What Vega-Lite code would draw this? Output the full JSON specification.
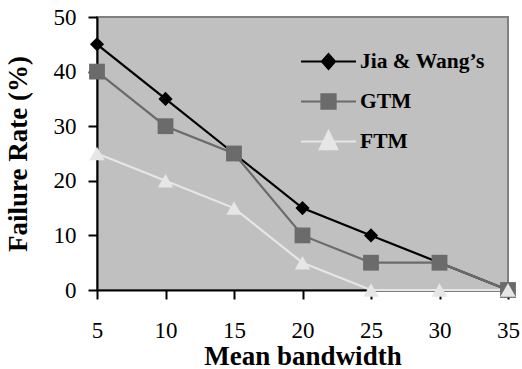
{
  "$schema": "https://vega.github.io/schema/vega-lite/v6.json",
  "width": 411,
  "height": 273,
  "autosize": "none",
  "padding": {"left": 97, "top": 17, "right": 14, "bottom": 79},
  "background": "white",
  "config": {
    "font": "Liberation Serif",
    "view": {"fill": "#c0c0c0", "stroke": "#808080", "strokeWidth": 2},
    "axis": {
      "domainColor": "black", "domainWidth": 2, "tickColor": "black", "tickWidth": 2, "tickSize": 9,
      "grid": false, "labelFont": "Liberation Serif, Times New Roman, serif", "labelFontSize": 23, "labelColor": "black",
      "titleFont": "Liberation Serif", "titleFontSize": 27, "titleFontWeight": "bold", "titleColor": "black"
    },
    "legend": {
      "title": null, "orient": "none", "legendX": 203, "legendY": 16,
      "symbolSize": 3025, "symbolStrokeWidth": 2, "symbolOpacity": 1,
      "labelFont": "Liberation Serif", "labelFontSize": 21.5, "labelFontWeight": "bold", "labelColor": "black",
      "labelOffset": 3, "rowPadding": -23, "labelLimit": 300
    }
  },
  "data": {"values": [
    {"bw": 5, "rate": 45, "series": "Jia & Wang’s"},
    {"bw": 10, "rate": 35, "series": "Jia & Wang’s"},
    {"bw": 15, "rate": 25, "series": "Jia & Wang’s"},
    {"bw": 20, "rate": 15, "series": "Jia & Wang’s"},
    {"bw": 25, "rate": 10, "series": "Jia & Wang’s"},
    {"bw": 30, "rate": 5, "series": "Jia & Wang’s"},
    {"bw": 35, "rate": 0, "series": "Jia & Wang’s"},
    {"bw": 5, "rate": 40, "series": "GTM"},
    {"bw": 10, "rate": 30, "series": "GTM"},
    {"bw": 15, "rate": 25, "series": "GTM"},
    {"bw": 20, "rate": 10, "series": "GTM"},
    {"bw": 25, "rate": 5, "series": "GTM"},
    {"bw": 30, "rate": 5, "series": "GTM"},
    {"bw": 35, "rate": 0, "series": "GTM"},
    {"bw": 5, "rate": 25, "series": "FTM"},
    {"bw": 10, "rate": 20, "series": "FTM"},
    {"bw": 15, "rate": 15, "series": "FTM"},
    {"bw": 20, "rate": 5, "series": "FTM"},
    {"bw": 25, "rate": 0, "series": "FTM"},
    {"bw": 30, "rate": 0, "series": "FTM"},
    {"bw": 35, "rate": 0, "series": "FTM"}
  ]},
  "encoding": {
    "x": {"field": "bw", "type": "quantitative",
      "scale": {"domain": [5, 35], "nice": false, "zero": false},
      "axis": {"values": [5, 10, 15, 20, 25, 30, 35], "title": "Mean bandwidth", "labelPadding": 20, "titlePadding": 1, "labelFlush": false}},
    "y": {"field": "rate", "type": "quantitative",
      "scale": {"domain": [0, 50], "nice": false},
      "axis": {"values": [0, 10, 20, 30, 40, 50], "title": "Failure Rate (%)", "labelPadding": 12, "titlePadding": 21}},
    "color": {"field": "series", "type": "nominal",
      "scale": {"domain": ["Jia & Wang’s", "GTM", "FTM"], "range": ["#000000", "#6b6b6b", "#e6e6e6"]},
      "legend": {"encode": {"symbols": {"update": {
        "fill": {"signal": "scale('color', datum.value)"},
        "stroke": {"signal": "scale('color', datum.value)"},
        "opacity": {"value": 1}
      }}}}}
  },
  "layer": [
    {
      "mark": {"type": "line", "strokeWidth": 2.2, "clip": false}
    },
    {
      "transform": [{"filter": "datum.series === 'Jia & Wang’s'"}],
      "mark": {"type": "point", "filled": true, "opacity": 1, "shape": "diamond", "size": 200, "clip": false}
    },
    {
      "transform": [{"filter": "datum.series === 'GTM'"}],
      "mark": {"type": "point", "filled": true, "opacity": 1, "shape": "square", "size": 250, "clip": false}
    },
    {
      "transform": [{"filter": "datum.series === 'FTM'"}],
      "mark": {"type": "point", "filled": true, "opacity": 1, "shape": "triangle-up", "size": 240, "clip": false}
    },
    {
      "transform": [{"filter": "datum.rate < 0"}],
      "mark": {"type": "point", "filled": true, "opacity": 1, "size": 3025, "strokeWidth": 2},
      "encoding": {
        "shape": {"field": "series", "type": "nominal",
          "scale": {"domain": ["Jia & Wang’s", "GTM", "FTM"],
            "range": [
              "M-1,0H1M-0.24,0L0,-0.27L0.24,0L0,0.27Z",
              "M-1,0H1M-0.26,-0.26H0.26V0.26H-0.26Z",
              "M-1,0H1M0,-0.38L0.32,0.28H-0.32Z"
            ]}
        }
      }
    }
  ]
}
